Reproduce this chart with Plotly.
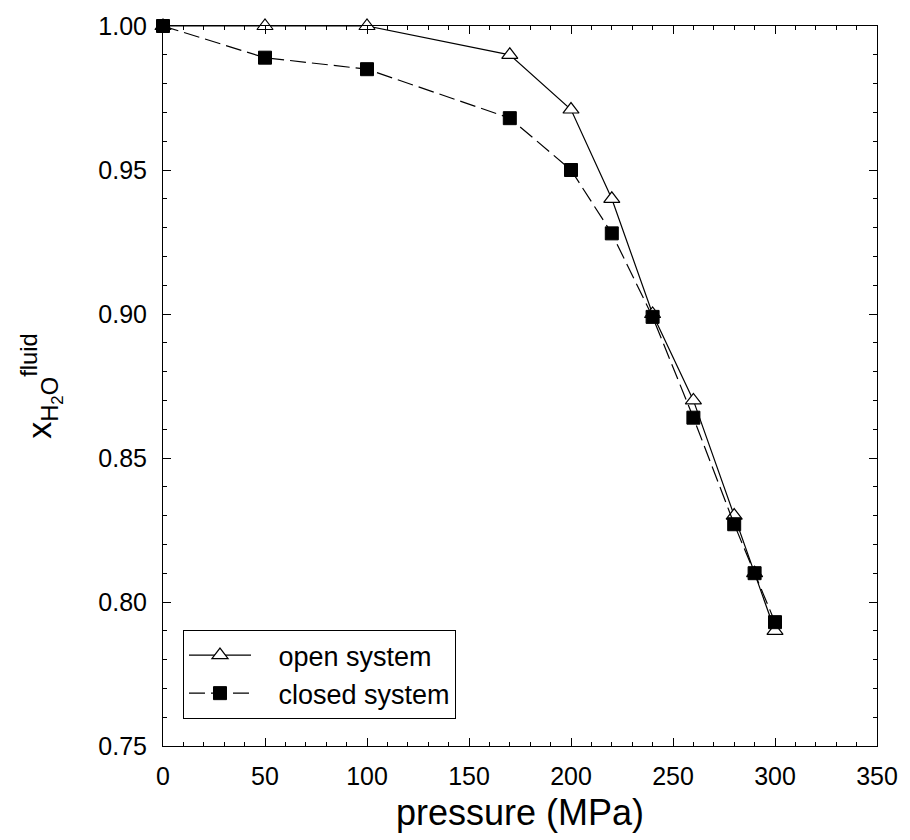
import plotly.graph_objects as go

pressure_open = [0, 50, 100, 170, 200, 220, 240, 260, 280, 290, 300]
x_open = [1.000, 1.000, 1.000, 0.990, 0.971, 0.940, 0.900, 0.870, 0.830, 0.810, 0.790]
pressure_closed = [0, 50, 100, 170, 200, 220, 240, 260, 280, 290, 300]
x_closed = [1.000, 0.989, 0.985, 0.968, 0.950, 0.928, 0.899, 0.864, 0.827, 0.810, 0.793]
series_names = ["open system", "closed system"]

font_family = "Liberation Sans, Arial, sans-serif"
pad = "\u00a0\u00a0\u00a0"

fig = go.Figure()
fig.add_trace(go.Scatter(
    x=pressure_open, y=x_open, name=pad + series_names[0], mode="lines+markers",
    cliponaxis=False,
    line=dict(color="black", width=1.2),
    marker=dict(symbol="triangle-up", size=14, color="white", line=dict(color="black", width=1.2)),
))
fig.add_trace(go.Scatter(
    x=pressure_closed, y=x_closed, name=pad + series_names[1], mode="lines+markers",
    cliponaxis=False,
    line=dict(color="black", width=1.2, dash="16px,6px"),
    marker=dict(symbol="square", size=13, color="black", line=dict(color="black", width=1)),
))

axis_common = dict(
    showgrid=False, zeroline=False, showline=True, linecolor="black", linewidth=1,
    mirror="ticks", ticks="inside", ticklen=8, tickcolor="black", tickwidth=1,
    tickfont=dict(family=font_family, size=25, color="black"),
)

fig.update_xaxes(
    range=[0, 350], tick0=0, dtick=50,
    minor=dict(ticks="inside", ticklen=4, dtick=10, tickcolor="black", showgrid=False),
    title=dict(text="pressure (MPa)", font=dict(family=font_family, size=36, color="black"), standoff=10),
    ticklabelstandoff=8,
    **axis_common,
)
fig.update_yaxes(
    range=[0.75, 1.0], tick0=0.75, dtick=0.05, tickformat=".2f",
    minor=dict(ticks="inside", ticklen=4, dtick=0.01, tickcolor="black", showgrid=False),
    title=dict(text="x<sub>H<sub>2</sub>O</sub><sup>fluid</sup>",
               font=dict(family=font_family, size=34, color="black"), standoff=36),
    ticklabelstandoff=10,
    **axis_common,
)

fig.update_layout(
    width=910, height=840,
    margin=dict(l=163, r=28, t=26, b=94),
    paper_bgcolor="white", plot_bgcolor="white",
    font=dict(family=font_family, color="black"),
    legend=dict(
        x=0.028, y=0.0375, xanchor="left", yanchor="bottom",
        bordercolor="black", borderwidth=1, bgcolor="white",
        font=dict(family=font_family, size=27, color="black"),
        itemwidth=62,
    ),
    showlegend=True,
)

fig.write_html("out.html")
